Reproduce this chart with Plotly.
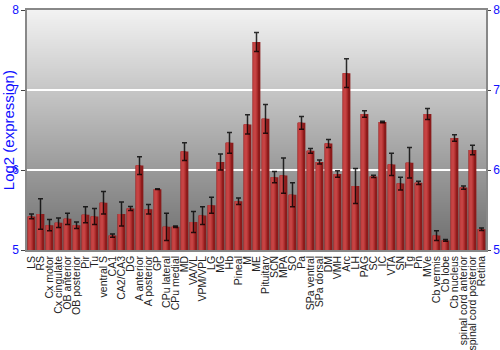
import plotly.graph_objects as go

categories = ["LS", "RS", "Cx motor", "Cx cingulate", "OB anterior", "OB posterior", "Pir", "Tu",
              "ventral S", "CA1", "CA2/CA3", "DG", "A anterior", "A posterior", "GP", "CPu lateral",
              "CPu medial", "MD", "VA/VL", "VPM/VPL", "LG", "MG", "Hb", "Pineal", "M", "ME",
              "Pituitary", "SCN", "MPA", "SO", "Pa", "SPa ventral", "SPa dorsal", "DM", "VMH", "Arc",
              "LH", "PAG", "SC", "IC", "VTA", "SN", "Tg", "Pn", "MVe", "Cb vermis", "Cb lobe",
              "Cb nucleus", "spinal cord anterior", "spinal cord posterior", "Retina"]

values = [5.42, 5.45, 5.31, 5.34, 5.39, 5.31, 5.44, 5.42,
          5.59, 5.18, 5.45, 5.52, 6.055, 5.51, 5.76, 5.29,
          5.29, 6.23, 5.35, 5.43, 5.56, 6.10, 6.34, 5.61, 6.57, 7.60,
          6.64, 5.91, 5.93, 5.69, 6.59, 6.24, 6.10, 6.33, 5.95, 7.21,
          5.80, 6.70, 5.92, 6.60, 6.07, 5.83, 6.09, 5.84, 6.70, 5.18, 5.12,
          6.40, 5.78, 6.25, 5.26]

errors = [0.03, 0.19, 0.07, 0.06, 0.07, 0.04, 0.10, 0.10,
          0.14, 0.02, 0.15, 0.025, 0.11, 0.06, 0.005, 0.17,
          0.01, 0.11, 0.13, 0.11, 0.10, 0.10, 0.13, 0.04, 0.12, 0.12,
          0.18, 0.07, 0.22, 0.15, 0.08, 0.03, 0.025, 0.05, 0.04, 0.18,
          0.22, 0.04, 0.015, 0.01, 0.14, 0.08, 0.19, 0.02, 0.07, 0.06, 0.01,
          0.04, 0.02, 0.06, 0.015]

y_ticks = [5, 6, 7, 8]
y_range = [5, 8]
y_title = "Log2 (expression)"

fig = go.Figure()

# bar body built from vertical strips to imitate a horizontal gradient
strips = [(-0.43, 0.86, "#8a1a1a"),
          (-0.43, 0.62, "#a82a2a"),
          (-0.40, 0.45, "#bb3838"),
          (-0.34, 0.28, "#c64444")]
for off, w, col in strips:
    fig.add_trace(go.Bar(x=categories, y=values, offset=off, width=w,
                         marker=dict(color=col, line=dict(width=0)),
                         hoverinfo="skip", showlegend=False))

fig.add_trace(go.Bar(x=categories, y=values, width=0.86,
                     marker=dict(color="rgba(0,0,0,0)", line=dict(width=0)),
                     error_y=dict(type="data", array=errors, visible=True,
                                  color="rgba(0,0,0,0.8)", thickness=1.5, width=2.5),
                     showlegend=False))

fig.add_trace(go.Scatter(x=[categories[0]], y=[5], yaxis="y2", mode="markers",
                         marker=dict(opacity=0), showlegend=False, hoverinfo="skip"))

# vertical gray gradient background
n = 240
for i in range(n):
    t = i / (n - 1)
    g = int(round(110 + (242 - 110) * t))
    fig.add_shape(type="rect", xref="paper", yref="paper",
                  x0=0, x1=1, y0=i / n, y1=(i + 1) / n + 0.001,
                  fillcolor=f"rgb({g},{g},{g})", line=dict(width=0), layer="below")

fig.add_annotation(text=y_title, xref="paper", yref="paper", x=-0.041, y=0.5,
                   xanchor="center", yanchor="middle", textangle=-90, showarrow=False,
                   font=dict(size=15, color="#1010ff"))

fig.update_layout(
    width=500, height=350,
    margin=dict(l=27, r=14, t=10, b=100),
    paper_bgcolor="white", plot_bgcolor="rgba(0,0,0,0)",
    barmode="overlay", bargap=0.1,
    font=dict(family="Arial, Liberation Sans, sans-serif"),
    xaxis=dict(type="category", range=[-0.5, len(categories) - 0.5],
               tickmode="array", tickvals=categories, ticktext=categories,
               tickangle=-90, tickfont=dict(size=10.5, color="#222"),
               showline=True, linecolor="#888", linewidth=1.5, mirror=True,
               ticks="", showgrid=False, automargin=False),
    yaxis=dict(range=y_range, tickvals=y_ticks, ticks="outside", ticklen=4,
               tickcolor="#444", tickfont=dict(size=12, color="#1010ff"),
               showline=True, linecolor="#888", linewidth=1.5,
               showgrid=True, gridcolor="white", gridwidth=2,
               zeroline=False, automargin=False),
    yaxis2=dict(range=y_range, tickvals=y_ticks, overlaying="y", side="right",
                ticks="outside", ticklen=3, tickcolor="#444",
                tickfont=dict(size=12, color="#1010ff"),
                showline=True, linecolor="#888", linewidth=1.5,
                showgrid=False, zeroline=False, automargin=False),
)

fig.write_html("out.html")
